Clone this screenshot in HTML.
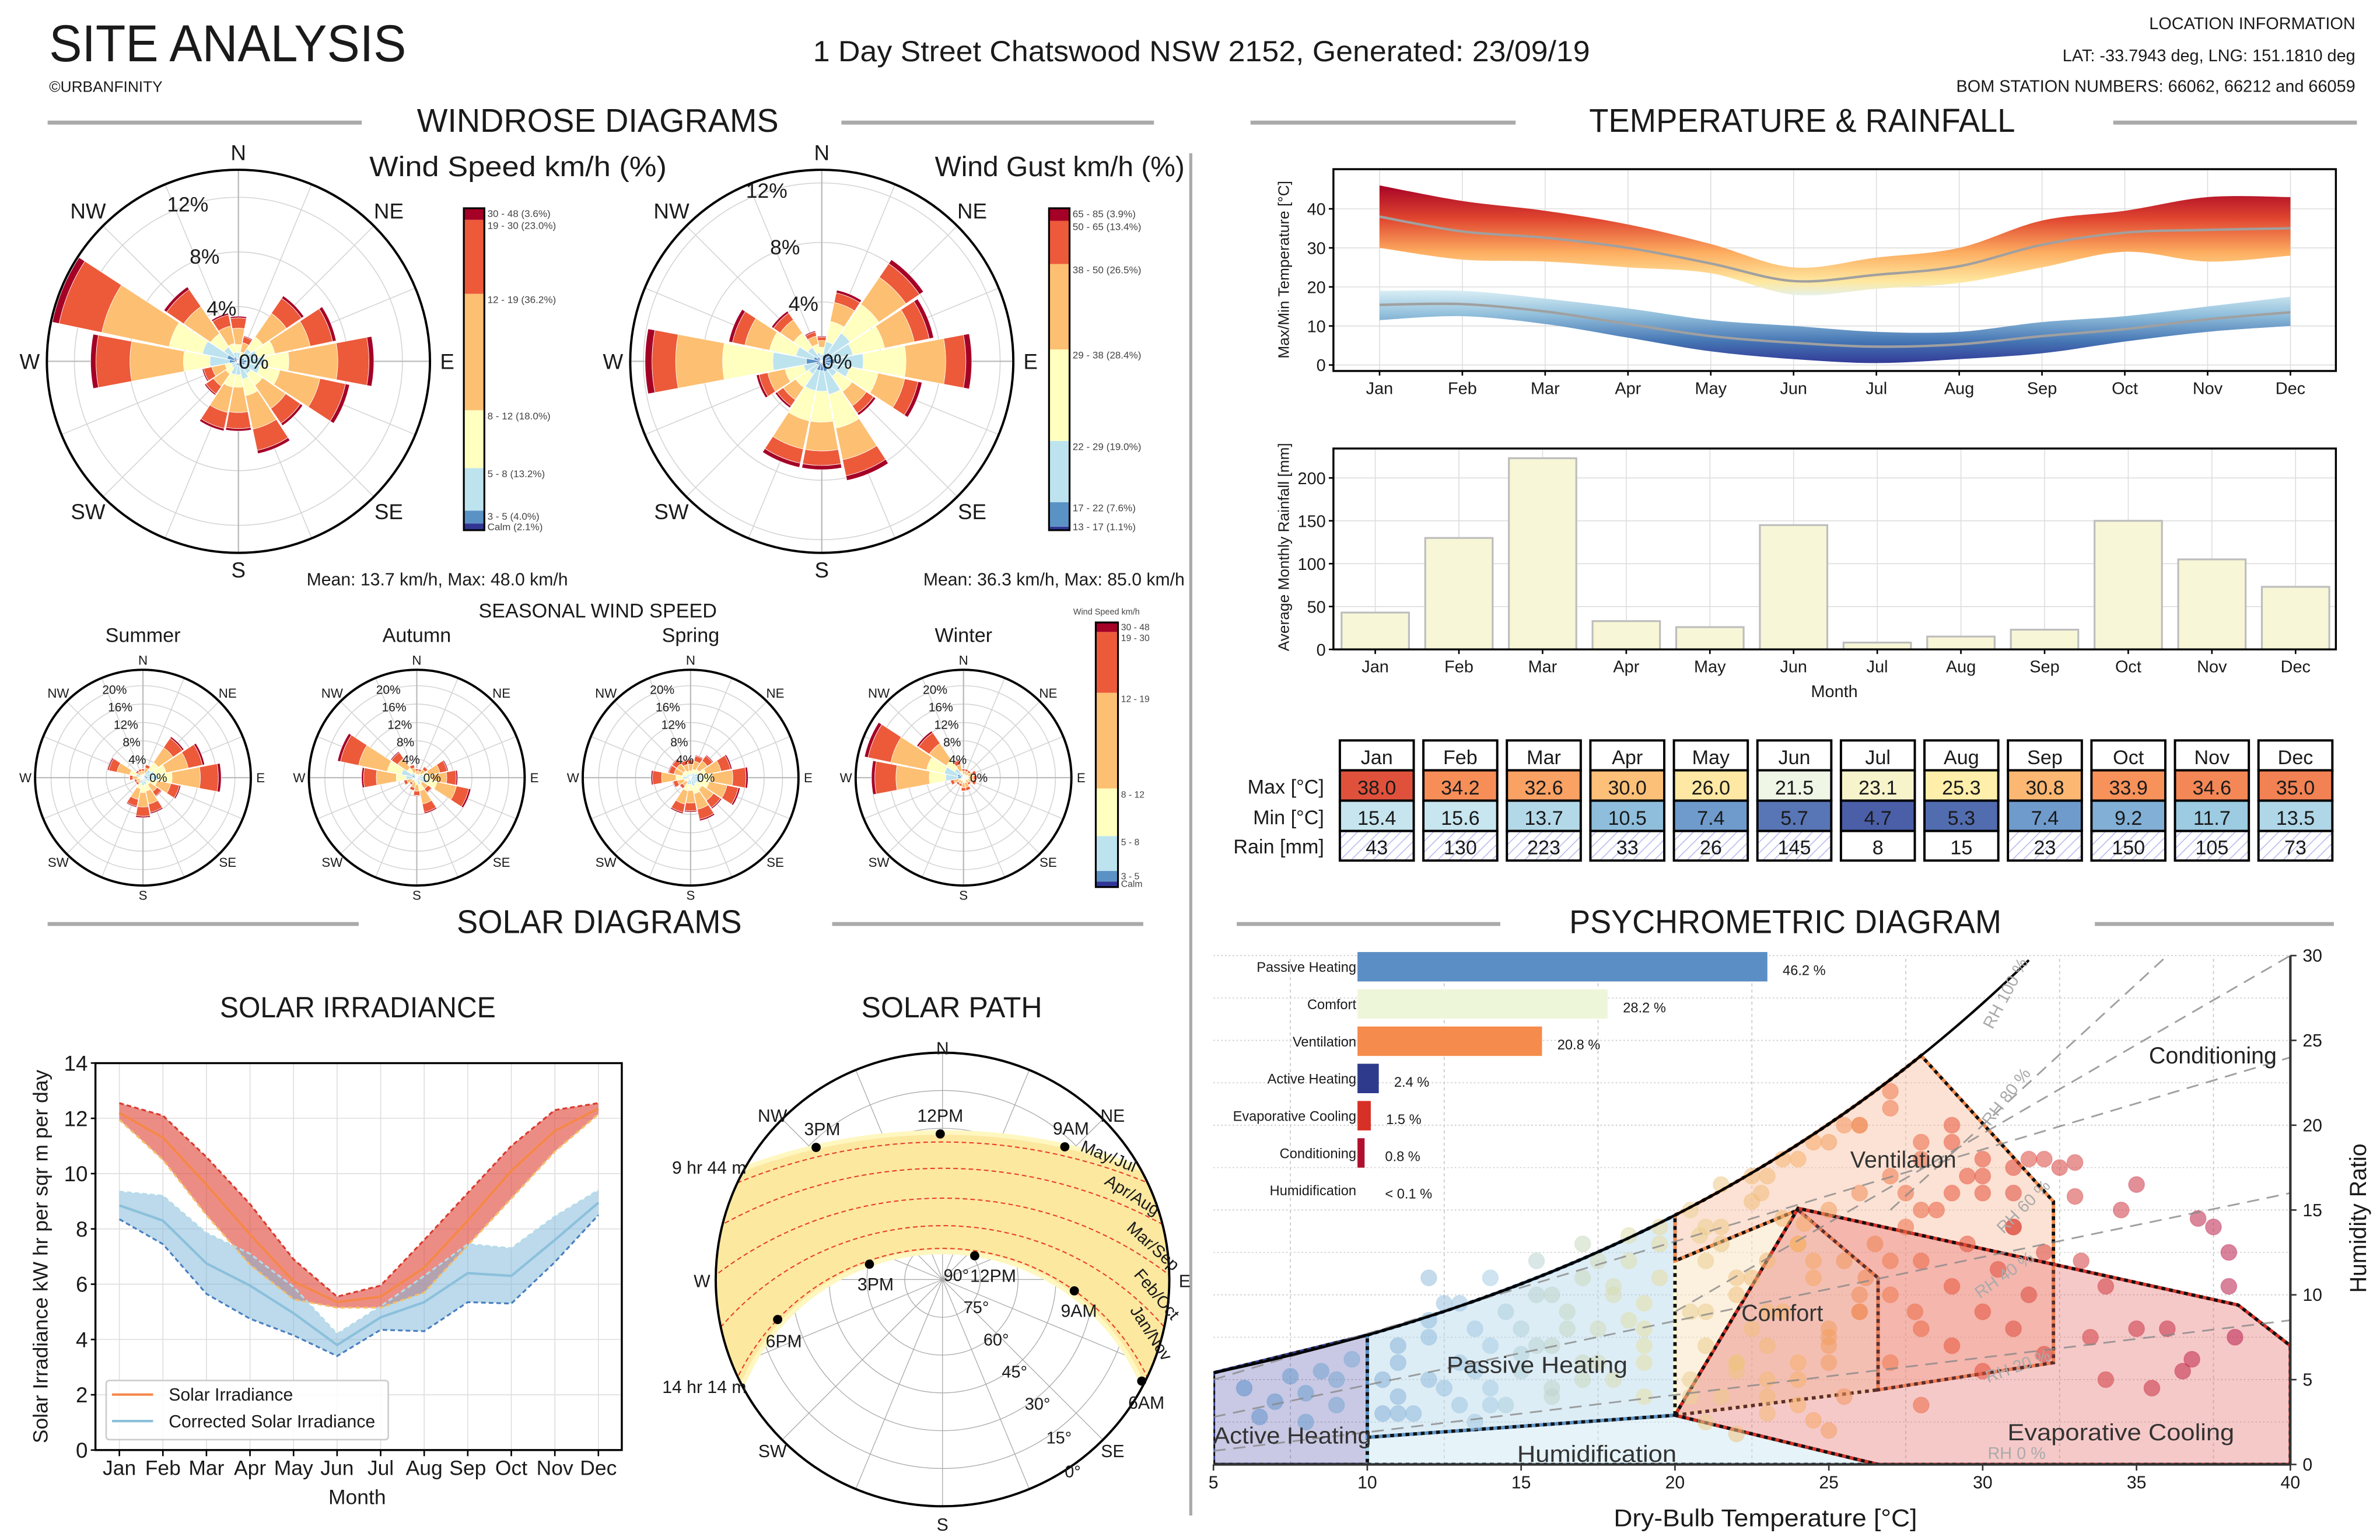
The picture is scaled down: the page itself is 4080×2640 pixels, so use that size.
<!DOCTYPE html>
<html><head><meta charset="utf-8"><title>Site Analysis</title>
<style>
html,body{margin:0;padding:0;background:#fff;width:4080px;height:2640px;overflow:hidden;}
svg{display:block;font-family:"Liberation Sans",Arial,sans-serif;}
</style></head>
<body>
<svg id="root" width="4080" height="2640" viewBox="0 0 1553 1005" xmlns="http://www.w3.org/2000/svg" overflow="hidden">
<defs>
<linearGradient id="gMax" gradientUnits="userSpaceOnUse" x1="0" y1="120" x2="0" y2="195">
<stop offset="0" stop-color="#a50026"/><stop offset="0.3" stop-color="#e0452f"/><stop offset="0.6" stop-color="#fdae61"/><stop offset="0.85" stop-color="#fee8a0"/><stop offset="1" stop-color="#e0f3f8"/></linearGradient>
<linearGradient id="gMin" gradientUnits="userSpaceOnUse" x1="0" y1="188" x2="0" y2="238">
<stop offset="0" stop-color="#e0f3f8"/><stop offset="0.35" stop-color="#91bfdb"/><stop offset="0.7" stop-color="#4575b4"/><stop offset="1" stop-color="#313695"/></linearGradient>
<pattern id="hatch" width="5" height="5" patternUnits="userSpaceOnUse" patternTransform="rotate(45)"><line x1="0" y1="0" x2="0" y2="5" stroke="#b8b8f0" stroke-width="1.2"/></pattern>
<clipPath id="psyClip"><rect x="791.8" y="623" width="702.8" height="332.7"/></clipPath>
<clipPath id="solClip"><circle cx="615" cy="835" r="148"/></clipPath>
</defs>
<g id="g"></g>
</svg>
<script>
// ---------- DATA ----------
const months=['Jan','Feb','Mar','Apr','May','Jun','Jul','Aug','Sep','Oct','Nov','Dec'];
const dirs=['N','NNE','NE','ENE','E','ESE','SE','SSE','S','SSW','SW','WSW','W','WNW','NW','NNW'];
const speedTotals=[3.3,1.9,5.8,7.3,9.9,8.3,5.7,6.9,5.1,5.2,3.0,2.7,10.8,13.9,6.6,3.6];
const speedShares=[0.021,0.04,0.132,0.18,0.362,0.23,0.036];
const speedBinLabels=['Calm (2.1%)','3 - 5 (4.0%)','5 - 8 (13.2%)','8 - 12 (18.0%)','12 - 19 (36.2%)','19 - 30 (23.0%)','30 - 48 (3.6%)'];
const gustTotals=[1.7,4.9,8.3,7.7,10.1,6.9,4.4,8.2,7.3,7.3,3.8,4.5,11.9,6.4,4.1,2.1];
const gustShares=[0.011,0.076,0.19,0.284,0.265,0.134,0.039];
const gustBinLabels=['13 - 17 (1.1%)','17 - 22 (7.6%)','22 - 29 (19.0%)','29 - 38 (28.4%)','38 - 50 (26.5%)','50 - 65 (13.4%)','65 - 85 (3.9%)'];
const summerTotals=[2,3,10.8,13.7,17,8.4,5,8,8.7,6.6,2,2,3,7.9,2,2];
const autumnTotals=[2,2,3,7,8.9,12,4,8,4,3,2,3,12,17.6,6.9,3];
const springTotals=[4,5,6,9.2,12.5,11,8.2,9.6,7.5,8,3,4,8.6,5,5,4];
const winterTotals=[2,2,2,3,3,3,2,3,3,2,2,3,20,22,12.3,4];
const seasonBinLabels=['Calm','3 - 5','5 - 8','8 - 12','12 - 19','19 - 30','30 - 48'];
const maxHigh=[46,42,39.5,36,31,25,27.5,30,37,39.5,43,43];
const maxLow=[30,27,26.5,25,23.5,18,19.5,21,25,29,26.5,28];
const maxMean=[38.0,34.2,32.6,30.0,26.0,21.5,23.1,25.3,30.8,33.9,34.6,35.0];
const minHigh=[19,19,17,14.5,11.5,10,8.5,8.5,11,12.5,15,17.5];
const minLow=[11.5,12.5,10.5,7,3.5,1.5,0.5,1.5,3,6,8.5,10];
const minMean=[15.4,15.6,13.7,10.5,7.4,5.7,4.7,5.3,7.4,9.2,11.7,13.5];
const rain=[43,130,223,33,26,145,8,15,23,150,105,73];
const tempTicks=[0,10,20,30,40];
const rainTicks=[0,50,100,150,200];
const solarUpper=[12.55,12.1,10.6,8.9,6.9,5.55,5.95,7.6,9.3,11.0,12.3,12.55];
const solarLower=[11.95,10.5,8.5,6.7,5.45,5.15,5.15,5.7,7.4,9.1,10.8,12.15];
const solarMean=[12.2,11.3,9.6,7.8,6.1,5.35,5.55,6.6,8.3,10.1,11.55,12.35];
const corrUpper=[9.35,9.2,7.85,7.1,5.9,4.2,5.2,6.3,7.45,7.3,8.45,9.4];
const corrLower=[8.35,7.45,5.65,4.75,4.15,3.4,4.35,4.3,5.35,5.3,6.8,8.5];
const corrMean=[8.85,8.3,6.75,5.95,4.95,3.8,4.8,5.35,6.4,6.3,7.6,8.95];
const solarTicks=[0,2,4,6,8,10,12,14];
const strategyNames=['Passive Heating','Comfort','Ventilation','Active Heating','Evaporative Cooling','Conditioning','Humidification'];
const strategyValues=[46.2,28.2,20.8,2.4,1.5,0.8,0.05];
const strategyLabels=['46.2 %','28.2 %','20.8 %','2.4 %','1.5 %','0.8 %','< 0.1 %'];
const ptT=[6,7,7.5,8,8.5,9,9,9.5,6.5,8,10.5,11,11,12,12,13,13,13.5,14,14,14.5,15,15,15.5,16,16,16.5,17,17,17.5,18,18,18.5,19,19,19,19.5,19.5,20.5,20.5,21,21,21.5,21.5,22,22,22.5,22.5,23,23,23,23.5,24,24,24,24.5,25,25,25,25.5,25.5,26,26,26,26.5,27,27,27,27,27.5,28,28,28,28,28.5,29,29,29,29.5,30,30,30,30.5,31,31,31,31.5,32,32,32,32.5,33,33,33.2,33.5,34,34,34.5,35,35,35.5,36,36.5,37,37.5,38,38,38.2,36.8,21,22,25,23,24.5,20.8,22.8,24.2,26.2,27.8,
10.5,11,11.5,12,12.5,13,13.5,14,14.5,15,15.5,16,16.5,17,17.5,18,18.5,19,19.5,11,12.5,14,15.5,17,18.5,12,13.5,16,17.5,19,20.5,21,21.5,22,22.5,23,23.5,24,24.5,25,20.5,21.5,22.5,23.5,24.5,25.5,21,22,23,24,25,26,27,28,29,30,31,26,27,28,29,30,31,27.5,29.5,31.5,22,23,24,25,26];
const ptW=[4.5,3.7,5.2,4.2,5.5,3.5,5,6.2,2.8,2.5,3,4,6,5,7.5,3.5,6,8,4.5,7,9,5.5,8,10,4,7,9,6,11,8,5,10,12,4,7,9.5,11,13,5,9,7,12,4,14,6,10,8,15.5,5,12,17,9,6,13,18,11,7.5,15,19,4,12,9,16,20,13,6,10,17,22,14,8,12,18,3.5,15,7,10.5,19,13,9,16,5.5,11.5,14,8,17.5,10,12.5,6.5,18,17.5,17.8,15.8,12,7.5,10.5,5,15,16.5,8,4.5,8,5.5,14.5,14,12.5,10.5,7.5,6.2,2.5,1.8,2,3,2.6,13.5,16,14.2,11,9,
5,7,3,8.5,4.5,9.5,5.5,11,3.5,6.5,12,4.5,8,13,6,10.5,13.5,8,14,3,9.5,3.5,7,5,8.5,11,2.5,10,12,6,4,9,13,5.5,11,7,14.5,3.5,12,6,15,16.5,17,18,19,20,14,11,9,13,8,10,12,15,16,17,14,20,21,19,20,18,16,16,17,18,6,4,5,7,9];
const psyXTicks=[5,10,15,20,25,30,35,40];
const psyYTicks=[0,5,10,15,20,25,30];
const rhLevels=[1.0,0.8,0.6,0.4,0.2];

// ---------- HELPERS ----------
const NS='http://www.w3.org/2000/svg';
const G=document.getElementById('g');
function mk(tag,attrs,name,parent){
  const el=document.createElementNS(NS,tag);
  for(const k in attrs) el.setAttribute(k,attrs[k]);
  
  
  (parent||G).appendChild(el);
  return el;
}
function tx(x,y,s,size,name,anchor,extra,parent){
  const a=Object.assign({x:x,y:y,'font-size':size,fill:'#1a1a1a','text-anchor':anchor||'start'},extra||{});
  const el=mk('text',a,name,parent);
  el.textContent=s;
  return el;
}
function grp(name,attrs){return mk('g',attrs||{},name);}
const PAL=['#313695','#5b92c6','#bde3ee','#ffffbf','#fdbf71','#ec5a3a','#a50026'];
function lerpColor(stops,v){
  if(v<=stops[0][0]) return stops[0][1];
  for(let i=1;i<stops.length;i++){
    if(v<=stops[i][0]){
      const t=(v-stops[i-1][0])/(stops[i][0]-stops[i-1][0]);
      const a=stops[i-1][1],b=stops[i][1];
      const c=[1,3,5].map(j=>Math.round(parseInt(a.substr(j,2),16)*(1-t)+parseInt(b.substr(j,2),16)*t));
      return 'rgb('+c.join(',')+')';
    }
  }
  return stops[stops.length-1][1];
}
function smoothSeg(pts){
  let d='';
  for(let i=0;i<pts.length-1;i++){
    const p0=pts[i-1]||pts[i],p1=pts[i],p2=pts[i+1],p3=pts[i+2]||p2;
    const c1=[p1[0]+(p2[0]-p0[0])/6,p1[1]+(p2[1]-p0[1])/6];
    const c2=[p2[0]-(p3[0]-p1[0])/6,p2[1]-(p3[1]-p1[1])/6];
    d+=` C${c1[0]},${c1[1]} ${c2[0]},${c2[1]} ${p2[0]},${p2[1]}`;
  }
  return d;
}
function header(text,cx,y,l1,l2,r1,r2,name,len){
  mk('line',{x1:l1,x2:l2,y1:y,y2:y,stroke:'#aaa','stroke-width':2.6},name+'-rule-left');
  mk('line',{x1:r1,x2:r2,y1:y,y2:y,stroke:'#aaa','stroke-width':2.6},name+'-rule-right');
  tx(cx,y+6,text,21.5,name,'middle',{textLength:len,lengthAdjust:'spacingAndGlyphs'});
}

// ---------- PAGE HEADER ----------
tx(32,40,'SITE ANALYSIS',34,'page-title','start',{textLength:233,lengthAdjust:'spacingAndGlyphs'});
tx(32,60,'©URBANFINITY',10,'copyright');
tx(784,40,'1 Day Street Chatswood NSW 2152, Generated: 23/09/19',19,'address-header','middle',{textLength:507,lengthAdjust:'spacingAndGlyphs'});
tx(1537,19,'LOCATION INFORMATION',11,'location-title','end');
tx(1537,40,'LAT: -33.7943 deg, LNG: 151.1810 deg',11,'lat-lng','end');
tx(1537,60,'BOM STATION NUMBERS: 66062, 66212 and 66059',11,'bom-stations','end');
header('WINDROSE DIAGRAMS',390,80,31,236,549,753,'windrose-header',236);
header('TEMPERATURE & RAINFALL',1176,80,816,989,1379,1538,'temperature-header',278);
header('SOLAR DIAGRAMS',391,603,31,234,543,746,'solar-header',186);
header('PSYCHROMETRIC DIAGRAM',1165,603,807,979,1367,1523,'psychrometric-header',282);
mk('line',{x1:777,x2:777,y1:100,y2:989,stroke:'#aaa','stroke-width':2},'section-divider');

// ---------- WINDROSES ----------
function P(cx,cy,r,a){const t=a*Math.PI/180;return [cx+r*Math.sin(t),cy-r*Math.cos(t)];}
function sector(cx,cy,r0,r1,a0,a1){
  const A=P(cx,cy,r0,a0),B=P(cx,cy,r1,a0),C=P(cx,cy,r1,a1),D=P(cx,cy,r0,a1);
  return `M${A} L${B} A${r1},${r1} 0 0 1 ${C} L${D} A${r0},${r0} 0 0 0 ${A} Z`;
}
function windrose(name,cx,cy,R,ppp,totals,shares,rings,fs,cfs){
  const g=grp(name);
  mk('circle',{cx:cx,cy:cy,r:R,fill:'#fff',stroke:'none'},name+'-bg',g);
  rings.forEach(v=>mk('circle',{cx:cx,cy:cy,r:v*ppp,fill:'none',stroke:'#d4d4d4','stroke-width':0.6},name+'-ring',g));
  for(let i=0;i<16;i++){const e=P(cx,cy,R,i*22.5);mk('line',{x1:cx,y1:cy,x2:e[0],y2:e[1],stroke:'#d4d4d4','stroke-width':0.6},name+'-spoke',g);}
  for(let i=0;i<4;i++){const e=P(cx,cy,R,i*90),f=P(cx,cy,R,i*90+180);mk('line',{x1:e[0],y1:e[1],x2:f[0],y2:f[1],stroke:'#bbb','stroke-width':0.8},name+'-axis',g);}
  totals.forEach((tot,i)=>{
    let cum=0;
    shares.forEach((s,b)=>{
      const r0=cum*tot*ppp; cum+=s; const r1=cum*tot*ppp;
      mk('path',{d:sector(cx,cy,r0,r1,i*22.5-10.6,i*22.5+10.6),fill:PAL[b],stroke:'#fff','stroke-width':0.3},name+'-wedge-'+dirs[i],g);
    });
  });
  mk('circle',{cx:cx,cy:cy,r:R,fill:'none',stroke:'#000','stroke-width':1.5},name+'-frame',g);
  rings.forEach(v=>{const q=P(cx,cy,v*ppp,-18);tx(q[0],q[1]+fs*0.3,v+'%',fs,name+'-ring-label','middle',{},g);});
  tx(cx+10,cy+fs*0.35,'0%',fs,name+'-zero-label','middle',{},g);
  const comp=[['N',0],['NE',45],['E',90],['SE',135],['S',180],['SW',225],['W',270],['NW',315]];
  comp.forEach(c=>{const q=P(cx,cy,R+(c[0].length>1?R*0.11:R*0.09),c[1]);
    tx(q[0],q[1]+cfs*0.35,c[0],cfs,name+'-compass-'+c[0],'middle',{},g);});
  return g;
}
function colorbar(name,x,y0,y1,w,shares,labels,fs){
  const g=grp(name);
  const tot=shares.reduce((a,b)=>a+b,0);
  let y=y1;
  shares.forEach((s,i)=>{
    const h=(y1-y0)*s/tot; y-=h;
    mk('rect',{x:x,y:y,width:w,height:h,fill:PAL[i]},name+'-segment',g);
    tx(x+w+2,y+(i===0?h:Math.min(h,8)*0.5+2),labels[i],fs,name+'-label','start',{fill:'#444'},g);
  });
  mk('rect',{x:x,y:y0,width:w,height:y1-y0,fill:'none',stroke:'#000','stroke-width':1.2},name+'-frame',g);
}
windrose('windspeed-rose',155.5,235.8,125,8.92,speedTotals,speedShares,[4,8,12],13.5,14);
tx(241,115,'Wind Speed km/h  (%)',18.5,'windspeed-title','start',{textLength:194,lengthAdjust:'spacingAndGlyphs'});
colorbar('windspeed-colorbar',302.6,135.9,346,13.4,speedShares,speedBinLabels,6.5);
tx(200,382,'Mean: 13.7 km/h, Max: 48.0 km/h',11.5,'windspeed-stats');
windrose('windgust-rose',536.2,235.8,125,9.7,gustTotals,gustShares,[4,8,12],13.5,14);
tx(773,115,'Wind Gust km/h (%)',18.5,'windgust-title','end',{textLength:163,lengthAdjust:'spacingAndGlyphs'});
colorbar('windgust-colorbar',684.5,135.9,346,13.4,gustShares,gustBinLabels,6.5);
tx(773,382,'Mean: 36.3 km/h, Max: 85.0 km/h',11.5,'windgust-stats','end');

tx(390,403,'SEASONAL WIND SPEED',13,'seasonal-title','middle');
const seasons=[['Summer',93.2,summerTotals],['Autumn',271.9,autumnTotals],['Spring',450.6,springTotals],['Winter',628.7,winterTotals]];
seasons.forEach(s=>{
  windrose('rose-'+s[0].toLowerCase(),s[1],507.5,70.4,3.0,s[2],speedShares,[4,8,12,16,20],8,8.5);
  tx(s[1],419,s[0],13,'season-title-'+s[0].toLowerCase(),'middle');
});
tx(722,401,'Wind Speed km/h',5.5,'seasonal-colorbar-title','middle',{fill:'#444'});
colorbar('seasonal-colorbar',715,406.2,578.9,14.5,[0.021,0.04,0.132,0.18,0.362,0.23,0.036],seasonBinLabels,6);

// ---------- TEMPERATURE ----------
(function(){
  const g=grp('temperature-chart');
  const x0=870.1,x1=1524.3,yTop=110.4,yBot=242.1;
  const X=i=>900.2+i*54.04, Y=v=>238.2-v*2.548;
  months.forEach((m,i)=>mk('line',{x1:X(i),x2:X(i),y1:yTop,y2:yBot,stroke:'#ddd','stroke-width':0.6},'temp-grid-x',g));
  tempTicks.forEach(v=>mk('line',{x1:x0,x2:x1,y1:Y(v),y2:Y(v),stroke:'#ddd','stroke-width':0.6},'temp-grid-y',g));
  const band=(hi,lo,fill,name)=>{
    const top=hi.map((v,i)=>[X(i),Y(v)]), bot=lo.map((v,i)=>[X(i),Y(v)]).reverse();
    mk('path',{d:`M${top[0]}`+smoothSeg(top)+` L${bot[0]}`+smoothSeg(bot)+' Z',fill:fill},name,g);
  };
  band(maxHigh,maxLow,'url(#gMax)','max-temp-band');
  band(minHigh,minLow,'url(#gMin)','min-temp-band');
  const line=(arr,name)=>{const pts=arr.map((v,i)=>[X(i),Y(v)]);mk('path',{d:`M${pts[0]}`+smoothSeg(pts),fill:'none',stroke:'#a0a0a0','stroke-width':1.6},name,g);};
  line(maxMean,'max-temp-mean-line'); line(minMean,'min-temp-mean-line');
  mk('rect',{x:x0,y:yTop,width:x1-x0,height:yBot-yTop,fill:'none',stroke:'#000','stroke-width':1.3},'temp-frame',g);
  tempTicks.forEach(v=>{mk('line',{x1:x0-3,x2:x0,y1:Y(v),y2:Y(v),stroke:'#000'},'temp-y-tick',g);tx(x0-5,Y(v)+4,String(v),11,'temp-y-label','end',{},g);});
  months.forEach((m,i)=>{mk('line',{x1:X(i),x2:X(i),y1:yBot,y2:yBot+3,stroke:'#000'},'temp-x-tick',g);tx(X(i),yBot+15,m,11,'temp-x-label','middle',{},g);});
  tx(0,0,'Max/Min Temperature [°C]',10,'temp-y-title','middle',{transform:'translate(841,176) rotate(-90)'},g);
})();

// ---------- RAINFALL ----------
(function(){
  const g=grp('rainfall-chart');
  const x0=870.1,x1=1524.3,yTop=292.7,yBot=423.8;
  const X=i=>897.4+i*54.6, Y=v=>423.8-v*0.5595;
  months.forEach((m,i)=>mk('line',{x1:X(i),x2:X(i),y1:yTop,y2:yBot,stroke:'#ddd','stroke-width':0.6},'rain-grid-x',g));
  rainTicks.forEach(v=>mk('line',{x1:x0,x2:x1,y1:Y(v),y2:Y(v),stroke:'#ddd','stroke-width':0.6},'rain-grid-y',g));
  rain.forEach((v,i)=>mk('rect',{x:X(i)-22,y:Y(v),width:44,height:Y(0)-Y(v),fill:'#f7f6d6',stroke:'#bdbdbd','stroke-width':1.2},'rain-bar-'+months[i].toLowerCase(),g));
  mk('rect',{x:x0,y:yTop,width:x1-x0,height:yBot-yTop,fill:'none',stroke:'#000','stroke-width':1.3},'rain-frame',g);
  rainTicks.forEach(v=>{mk('line',{x1:x0-3,x2:x0,y1:Y(v),y2:Y(v),stroke:'#000'},'rain-y-tick',g);tx(x0-5,Y(v)+4,String(v),11,'rain-y-label','end',{},g);});
  months.forEach((m,i)=>{mk('line',{x1:X(i),x2:X(i),y1:yBot,y2:yBot+3,stroke:'#000'},'rain-x-tick',g);tx(X(i),yBot+15,m,11,'rain-x-label','middle',{},g);});
  tx(1197,455,'Month',11,'rain-x-title','middle',{},g);
  tx(0,0,'Average Monthly Rainfall [mm]',10,'rain-y-title','middle',{transform:'translate(841,357) rotate(-90)'},g);
})();

// ---------- TABLE ----------
(function(){
  const g=grp('climate-table');
  const cx=i=>874.3+i*54.5, w=48.2;
  const rows=[[483.2,502.7],[502.7,522.5],[522.5,542.3],[542.3,561.6]];
  const maxStops=[[21,'#eef7ee'],[25,'#fff2ae'],[30,'#fdc078'],[34,'#f8915a'],[38,'#e0513c']];
  const minStops=[[4.7,'#4a5fa8'],[7.4,'#6f9bcc'],[11.7,'#9ccbe2'],[15.6,'#c8e6f0']];
  months.forEach((m,i)=>{
    const x=cx(i);
    mk('rect',{x:x,y:rows[0][0],width:w,height:rows[0][1]-rows[0][0],fill:'#fff',stroke:'#000','stroke-width':1.5},'table-header-'+m.toLowerCase(),g);
    tx(x+w/2,rows[0][1]-4,m,13,'table-month','middle',{},g);
    mk('rect',{x:x,y:rows[1][0],width:w,height:19.8,fill:lerpColor(maxStops,maxMean[i]),stroke:'#000','stroke-width':1.5},'table-max-cell',g);
    tx(x+w/2,rows[1][1]-4,maxMean[i].toFixed(1),13,'table-max-value','middle',{},g);
    mk('rect',{x:x,y:rows[2][0],width:w,height:19.8,fill:lerpColor(minStops,minMean[i]),stroke:'#000','stroke-width':1.5},'table-min-cell',g);
    tx(x+w/2,rows[2][1]-4,minMean[i].toFixed(1),13,'table-min-value','middle',{},g);
    mk('rect',{x:x,y:rows[3][0],width:w,height:19.3,fill:rain[i]>20?'url(#hatch)':'#fff',stroke:'#000','stroke-width':1.5},'table-rain-cell',g);
    tx(x+w/2,rows[3][1]-4,String(rain[i]),13,'table-rain-value','middle',{},g);
  });
  tx(864,518,'Max [°C]',13,'table-row-max','end',{},g);
  tx(864,538,'Min [°C]',13,'table-row-min','end',{},g);
  tx(864,557,'Rain [mm]',13,'table-row-rain','end',{},g);
})();

// ---------- SOLAR IRRADIANCE ----------
(function(){
  const g=grp('solar-irradiance-chart');
  const x0=62.2,x1=405.7,yTop=693.8,yBot=946.3;
  const X=i=>77.8+i*28.42, Y=v=>946.3-v*18.04;
  tx(233.4,664,'SOLAR IRRADIANCE',19,'solar-irradiance-title','middle',{textLength:180,lengthAdjust:'spacingAndGlyphs'},g);
  months.forEach((m,i)=>mk('line',{x1:X(i),x2:X(i),y1:yTop,y2:yBot,stroke:'#ddd','stroke-width':0.6},'irr-grid-x',g));
  solarTicks.forEach(v=>mk('line',{x1:x0,x2:x1,y1:Y(v),y2:Y(v),stroke:'#ddd','stroke-width':0.6},'irr-grid-y',g));
  const poly=(hi,lo,fill,op,name)=>{const pts=hi.map((v,i)=>X(i)+','+Y(v)).concat(lo.map((v,i)=>X(i)+','+Y(v)).reverse());mk('polygon',{points:pts.join(' '),fill:fill,'fill-opacity':op},name,g);};
  const pl=(arr,col,wd,dash,name)=>mk('polyline',{points:arr.map((v,i)=>X(i)+','+Y(v)).join(' '),fill:'none',stroke:col,'stroke-width':wd,'stroke-dasharray':dash||'none'},name,g);
  poly(solarUpper,solarLower,'#e1473a',0.62,'solar-irradiance-band');
  poly(corrUpper,corrLower,'#7fb9d8',0.52,'corrected-irradiance-band');
  pl(solarUpper,'#d83a2e',1.2,'3,2','solar-upper-line');
  pl(solarLower,'#f5c06a',1.2,'3,2','solar-lower-line');
  pl(corrUpper,'#b5dbe9',1.2,'3,2','corrected-upper-line');
  pl(corrLower,'#4a7fc0',1.2,'3,2','corrected-lower-line');
  pl(solarMean,'#f5884a',1.6,null,'solar-irradiance-line');
  pl(corrMean,'#8cc0dc',1.6,null,'corrected-irradiance-line');
  mk('rect',{x:x0,y:yTop,width:x1-x0,height:yBot-yTop,fill:'none',stroke:'#000','stroke-width':1.3},'irr-frame',g);
  solarTicks.forEach(v=>{mk('line',{x1:x0-3,x2:x0,y1:Y(v),y2:Y(v),stroke:'#000'},'irr-y-tick',g);tx(x0-5,Y(v)+5,String(v),14,'irr-y-label','end',{},g);});
  months.forEach((m,i)=>{mk('line',{x1:X(i),x2:X(i),y1:yBot,y2:yBot+4,stroke:'#000'},'irr-x-tick',g);tx(X(i),962.5,m,13.5,'irr-x-label','middle',{},g);});
  tx(233,981.5,'Month',13.5,'irr-x-title','middle',{},g);
  tx(0,0,'Solar Irradiance kW hr per sqr m per day',13.5,'irr-y-title','middle',{transform:'translate(31,820) rotate(-90)'},g);
  mk('rect',{x:69.2,y:900.9,width:184.1,height:38.6,rx:2,fill:'#fff','fill-opacity':0.85,stroke:'#ccc','stroke-width':1},'irr-legend',g);
  mk('line',{x1:73,x2:99.8,y1:910.1,y2:910.1,stroke:'#f5884a','stroke-width':1.6},'legend-solar-swatch',g);
  tx(110,914,'Solar Irradiance',11.5,'legend-solar-label','start',{},g);
  mk('line',{x1:73,x2:99.8,y1:927.4,y2:927.4,stroke:'#8cc0dc','stroke-width':1.6},'legend-corrected-swatch',g);
  tx(110,931.5,'Corrected Solar Irradiance',11.5,'legend-corrected-label','start',{},g);
})();

// ---------- SOLAR PATH ----------
(function(){
  const g=grp('solar-path-chart');
  const cx=615,cy=835,R=148,yCut=985;
  tx(621,664,'SOLAR PATH',19,'solar-path-title','middle',{textLength:118,lengthAdjust:'spacingAndGlyphs'},g);
  [1,2,3,4,5].forEach(k=>mk('circle',{cx:cx,cy:cy,r:R*k/6,fill:'none',stroke:'#aaa','stroke-width':0.5},'elevation-ring',g));
  for(let a=0;a<360;a+=22.5){const e=P(cx,cy,R,a);mk('line',{x1:cx,y1:cy,x2:e[0],y2:e[1],stroke:'#aaa','stroke-width':0.5},'azimuth-line',g);}
  const arcPts=(c,r)=>{
    const cosm=Math.max(-1,Math.min(1,(c-yCut)/r)); const pm=Math.acos(cosm);
    const pts=[]; const n=80;
    for(let k=0;k<=n;k++){const ph=-pm+2*pm*k/n;pts.push([cx+r*Math.sin(ph),c-r*Math.cos(ph)]);}
    return pts;
  };
  const cg=mk('g',{'clip-path':'url(#solClip)'},'solar-band-group',g);
  const uc=[1107,368], lc=[958.5,141.5];
  const up=arcPts(uc[0],uc[1]), lo=arcPts(lc[0],lc[1]).reverse();
  mk('polygon',{points:up.concat(lo).map(p=>p[0].toFixed(2)+','+p[1].toFixed(2)).join(' '),fill:'#fde8a0',stroke:'#fff7c0','stroke-width':3},'solar-band',cg);
  [0.08,0.3,0.55,0.78,0.97].forEach(t=>{
    const c=uc[0]+(lc[0]-uc[0])*t, r=uc[1]+(lc[1]-uc[1])*t;
    mk('polyline',{points:arcPts(c,r).map(p=>p[0].toFixed(2)+','+p[1].toFixed(2)).join(' '),fill:'none',stroke:'#e8402c','stroke-width':0.8,'stroke-dasharray':'3,2'},'monthly-sun-path',cg);
  });
  mk('circle',{cx:cx,cy:cy,r:R,fill:'none',stroke:'#000','stroke-width':1.5},'solar-path-frame',g);
  const pts=[[613.5,740,'12PM',0,-8],[532.5,748.8,'3PM',4,-8],[694.8,748.4,'9AM',4,-8],[567.3,825,'3PM',4,17],[636,819.5,'12PM',12,17],[701,842.4,'9AM',3,17],[507.4,861.1,'6PM',4,18],[745,901.3,'6AM',3,18]];
  pts.forEach(p=>{mk('circle',{cx:p[0],cy:p[1],r:3,fill:'#000'},'sun-position-marker',g);tx(p[0]+p[3],p[1]+p[4],p[2],11.5,'sun-time-label','middle',{},g);});
  [['90°',624,836],['75°',637,857],['60°',650,878],['45°',662,899],['30°',677,920],['15°',691,942],['0°',700,964]].forEach(d=>tx(d[1],d[2],d[0],11,'elevation-label','middle',{},g));
  [['N',615,688],['NE',726,732],['E',773,840],['SE',726,951],['S',615,999],['SW',504,951],['W',458,840],['NW',504,732]].forEach(c=>tx(c[1],c[2],c[0],11.5,'solar-compass-'+c[0],'middle',{},g));
  tx(487,766,'9 hr 44 m',11.5,'day-length-winter','end',{},g);
  tx(487,909,'14 hr 14 m',11.5,'day-length-summer','end',{},g);
  [['May/Jul',722,758,22],['Apr/Aug',737,783,32],['Mar/Sep',750,816,42],['Feb/Oct',752,847,50],['Jan/Nov',748,872,57]].forEach(d=>tx(d[1],d[2],d[0],11,'month-pair-label','middle',{transform:`rotate(${d[3]} ${d[1]} ${d[2]})`},g));
})();

// ---------- PSYCHROMETRIC ----------
(function(){
  const g=grp('psychrometric-chart');
  const X=t=>791.8+(t-5)*20.08, Y=w=>955.7-w*11.07;
  const sat=(t,rh)=>{const ps=0.61078*Math.exp(17.27*t/(t+237.3))*rh;return 622*ps/(101.325-ps);};
  const cg=mk('g',{'clip-path':'url(#psyClip)'},'psy-plot',g);
  psyXTicks.forEach(t=>mk('line',{x1:X(t+2.5),x2:X(t+2.5),y1:Y(0),y2:Y(30),stroke:'#ccc','stroke-width':0.7,'stroke-dasharray':'2,2'},'psy-grid-x',cg));
  psyYTicks.forEach(w=>{mk('line',{x1:X(5),x2:X(40),y1:Y(w),y2:Y(w),stroke:'#ccc','stroke-width':0.7,'stroke-dasharray':'1,1.5'},'psy-grid-y',cg);mk('line',{x1:X(5),x2:X(40),y1:Y(w+2.5),y2:Y(w+2.5),stroke:'#ccc','stroke-width':0.6,'stroke-dasharray':'1,1.5'},'psy-grid-y',cg);});
  const satPts=(a,b)=>{const r=[];for(let t=a;t<=b+0.001;t+=0.5)r.push([t,sat(t,1)]);return r;};
  const zone=(pts,fill,stroke,name)=>{
    const d='M'+pts.map(p=>X(p[0])+','+Y(p[1])).join(' L')+' Z';
    mk('path',{d:d,fill:fill,stroke:stroke,'stroke-width':2.2},name,cg);
    mk('path',{d:d,fill:'none',stroke:'#111','stroke-width':2.2,'stroke-dasharray':'2.5,2.5'},name+'-outline',cg);
  };
  zone([[5,0],[10,0],[10,sat(10,1)],[5,sat(5,1)]],'rgba(60,60,160,0.28)','#2e3a8c','zone-active-heating');
  zone([[10,0],[26.6,0],[20,2.9],[10,1.6]],'rgba(200,228,242,0.45)','#a8d8ea','zone-humidification');
  zone([[10,1.6],[20,2.9]].concat(satPts(10,20).reverse()),'rgba(180,215,235,0.45)','#5b92c6','zone-passive-heating');
  zone([[20,2.9],[26.6,4.4],[26.6,11],[24,15],[20,12]],'rgba(250,225,190,0.5)','#fffbd0','zone-comfort');
  zone(satPts(20,28).concat([[32.3,15.5],[32.3,6],[26.6,4.4],[26.6,11],[24,15],[20,12]]),'rgba(248,190,160,0.45)','#f58b4c','zone-ventilation');
  zone([[20,2.9],[24,15.1],[32.3,11.8],[38.3,9.4],[40,7],[40,0],[26.6,0]],'rgba(230,100,100,0.35)','#d73027','zone-evaporative-cooling');
  const tStops=[[6,'#5b8ec8'],[14,'#a7cde3'],[19,'#e3e0a6'],[24,'#f6b06a'],[29,'#e8553a'],[34,'#d03a40'],[38,'#b81c4a']];
  ptT.forEach((t,i)=>mk('circle',{cx:X(t),cy:Y(ptW[i]),r:5.2,fill:lerpColor(tStops,t),'fill-opacity':0.55,stroke:lerpColor(tStops,t),'stroke-opacity':0.3,'stroke-width':0.6},'climate-hour-point',cg));
  [[5,0.8,40,8.5],[5,2.8,40,16],[5,5,40,24],[20,9,40,30],[27,15,36,30]].forEach(l=>mk('line',{x1:X(l[0]),y1:Y(l[1]),x2:X(l[2]),y2:Y(l[3]),stroke:'#888','stroke-width':1.1,'stroke-dasharray':'8,5','stroke-opacity':0.8},'psy-guide-line',cg));
  const sp=[];for(let t=5;t<=31.5;t+=0.25)sp.push(X(t)+','+Y(sat(t,1)));
  mk('polyline',{points:sp.join(' '),fill:'none',stroke:'#000','stroke-width':1.6},'saturation-curve',cg);
  [['RH 100 %',1312,650,-62],['RH 80 %',1312,718,-52],['RH 60 %',1323,790,-45],['RH 40 %',1310,835,-35],['RH 20 %',1318,895,-20],['RH 0 %',1316,952,0]].forEach(r=>tx(r[1],r[2],r[0],11,'rh-label','middle',{fill:'#aaa',transform:`rotate(${r[3]} ${r[1]} ${r[2]})`},cg));
  tx(X(5),942,'Active Heating',15,'label-active-heating','start',{fill:'#333',textLength:103,lengthAdjust:'spacingAndGlyphs'},cg);
  tx(1003,896,'Passive Heating',15,'label-passive-heating','middle',{fill:'#333',textLength:118,lengthAdjust:'spacingAndGlyphs'},cg);
  tx(1042,954,'Humidification',15,'label-humidification','middle',{fill:'#333',textLength:104,lengthAdjust:'spacingAndGlyphs'},cg);
  tx(1163,862,'Comfort',15,'label-comfort','middle',{fill:'#333'},cg);
  tx(1242,762,'Ventilation',15,'label-ventilation','middle',{fill:'#333'},cg);
  tx(1384,940,'Evaporative Cooling',15,'label-evaporative-cooling','middle',{fill:'#333',textLength:148,lengthAdjust:'spacingAndGlyphs'},cg);
  tx(1444,694,'Conditioning',15,'label-conditioning','middle',{fill:'#222'},cg);
  mk('line',{x1:X(5),x2:X(40),y1:Y(0),y2:Y(0),stroke:'#333','stroke-width':1.6},'psy-x-axis',g);
  mk('line',{x1:X(40),x2:X(40),y1:Y(0),y2:Y(30),stroke:'#333','stroke-width':1.6},'psy-y-axis',g);
  psyXTicks.forEach(t=>{mk('line',{x1:X(t),x2:X(t),y1:Y(0),y2:Y(0)+4,stroke:'#333'},'psy-x-tick',g);tx(X(t),971.3,String(t),11.5,'psy-x-label','middle',{},g);});
  psyYTicks.forEach(w=>{mk('line',{x1:X(40),x2:X(40)+4,y1:Y(w),y2:Y(w),stroke:'#333'},'psy-y-tick',g);tx(X(40)+8,Y(w)+4,String(w),11.5,'psy-y-label','start',{},g);});
  tx(1152,996,'Dry-Bulb Temperature [°C]',16,'psy-x-title','middle',{textLength:198,lengthAdjust:'spacingAndGlyphs'},g);
  tx(0,0,'Humidity Ratio',15,'psy-y-title','middle',{transform:'translate(1544,795) rotate(-90)'},g);
  const cols=['#5b8ec4','#eef6da','#f58b4c','#2e3a8c','#d73027','#b0102e','#ffffff'];
  strategyNames.forEach((n,i)=>{
    const y=621.3+i*24.3;
    tx(885,y+13,n,9,'strategy-label','end',{},g);
    const w=strategyValues[i]*5.79;
    mk('rect',{x:885.8,y:y,width:w,height:19.2,fill:cols[i]},'strategy-bar-'+n.toLowerCase().replace(/ /g,'-'),g);
    tx(885.8+Math.max(w,8)+10,y+15,strategyLabels[i],9,'strategy-value','start',{},g);
  });
})();
</script>
</body></html>
